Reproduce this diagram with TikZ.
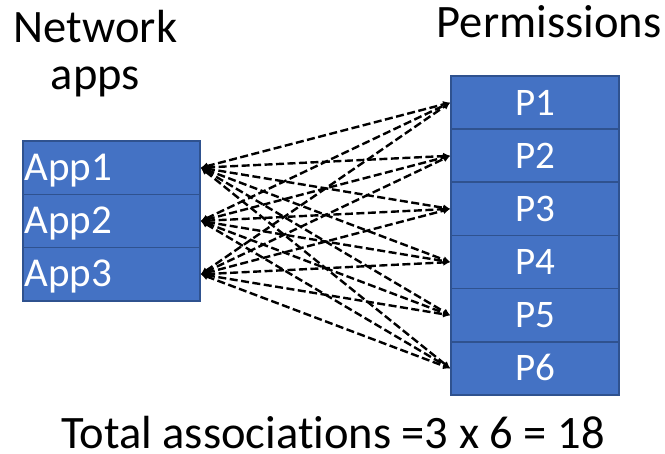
\documentclass[tikz,border=0pt]{standalone}
\usepackage{fontspec}
\setmainfont{Carlito}[Ligatures=NoCommon]
\usetikzlibrary{arrows.meta}
\definecolor{boxfill}{HTML}{4472C4}
\definecolor{boxline}{HTML}{2F528F}
\tikzset{
  cell/.style={draw=boxline, fill=boxfill, line width=1.6pt, text=white,
    minimum height=53.3pt, text height=25pt, text depth=0pt, inner ysep=0pt},
  appcell/.style={cell, font=\fontsize{41}{44}\selectfont,
    text width=174pt, align=left, inner xsep=1.5pt},
  permcell/.style={cell, font=\fontsize{39}{42}\selectfont,
    minimum width=168pt, inner xsep=0pt},
  heading/.style={font=\fontsize{46.5}{50}\selectfont, anchor=base, inner sep=0pt},
  link/.style={dash pattern=on 8pt off 3.5pt, line width=2.4pt,
    {Latex[length=7pt,width=7pt]}-{Latex[length=7pt,width=7pt]}}
}
\begin{document}
\begin{tikzpicture}[x=1pt,y=1pt]
\useasboundingbox (0,0) rectangle (665,454);
% titles
\node[heading] (t1) at (95.5,411) {Network};
\node[heading] (t2) at (95.5,364) {apps};
\node[heading] (t3) at (549,416) {Permissions};
% application column
\node[appcell] (a1) at (111.5,286.3) {App1};
\node[appcell] (a2) at (111.5,233.0) {App2};
\node[appcell] (a3) at (111.5,179.7) {App3};
% permission column
\node[permcell] (p1) at (535,351.4) {P1};
\node[permcell] (p2) at (535,298.2) {P2};
\node[permcell] (p3) at (535,245.1) {P3};
\node[permcell] (p4) at (535,191.9) {P4};
\node[permcell] (p5) at (535,138.7) {P5};
\node[permcell] (p6) at (535,85.6) {P6};
% every app linked to every permission
\foreach \a in {a1,a2,a3}
  \foreach \p in {p1,p2,p3,p4,p5,p6}
    \draw[link] (\a.east) -- (\p.west);
% total
\node[heading] (tot) at (333,5) {Total associations =3 x 6 = 18};
\end{tikzpicture}
\end{document}
